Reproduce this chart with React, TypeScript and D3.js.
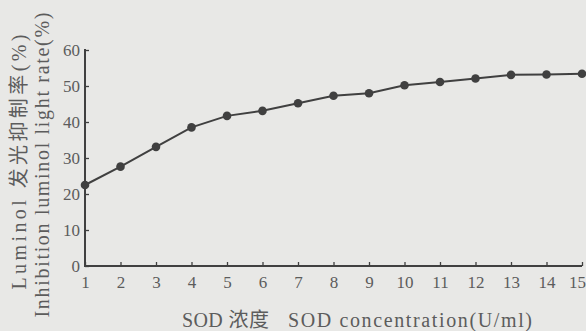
import React, { useRef, useEffect } from "react";
import * as d3 from "d3";

// SOD concentration (U/ml) and inhibition rate (%)
const concentrations = [1, 2, 3, 4, 5, 6, 7, 8, 9, 10, 11, 12, 13, 14, 15];
const inhibition = [22.5, 27.6, 33.1, 38.5, 41.7, 43.1, 45.2, 47.3, 48.0, 50.2, 51.1, 52.1, 53.1, 53.2, 53.4];
const yTicks = [0, 10, 20, 30, 40, 50, 60];
const yLabel1 = "Luminol 发光抑制率(%)";
const yLabel2 = "Inhibition luminol light rate(%)";
const xLabelCn = "SOD 浓度";
const xLabelEn = "SOD concentration(U/ml)";

const W = 586;
const H = 331;
const FONT = "'Liberation Serif', 'Noto Sans CJK SC', serif";

const App = () => {
  const ref = useRef<SVGSVGElement>(null);

  useEffect(() => {
    const svg = d3.select(ref.current);
    svg.selectAll("*").remove();

    const ink = "#404040";
    const txt = "#5c5c5c";

    svg.append("rect").attr("width", W).attr("height", H).attr("fill", "#e8e8e6");

    const x = d3.scaleLinear().domain([1, 15]).range([85, 582]);
    const y = d3.scaleLinear().domain([0, 60]).range([266, 50]);

    // y axis, ticks pointing inward
    const yAxis = svg
      .append("g")
      .attr("transform", `translate(${x(1)},0)`)
      .call(d3.axisLeft(y).tickValues(yTicks).tickSize(-4).tickPadding(5));
    yAxis.select(".domain").attr("stroke", ink).attr("stroke-width", 2).attr("d", `M0,${y(60) - 1}V${y(0)}`);
    yAxis.selectAll(".tick line").attr("stroke", ink).attr("stroke-width", 1.3);
    yAxis
      .selectAll(".tick text")
      .attr("fill", txt)
      .style("font-family", FONT)
      .style("font-size", "17px");

    // x axis, ticks pointing inward
    const xAxis = svg
      .append("g")
      .attr("transform", `translate(0,${y(0)})`)
      .call(d3.axisBottom(x).tickValues(concentrations).tickFormat(d3.format("d")).tickSize(-4).tickPadding(10));
    xAxis.select(".domain").attr("stroke", ink).attr("stroke-width", 2).attr("d", `M${x(1) - 1},0H${x(15)}`);
    xAxis.selectAll(".tick line").attr("stroke", ink).attr("stroke-width", 1.3);
    xAxis
      .selectAll(".tick text")
      .attr("fill", txt)
      .style("font-family", FONT)
      .style("font-size", "17px");
    xAxis.selectAll(".tick:last-of-type text").attr("text-anchor", "end").attr("dx", "0.2em");

    // data line
    const line = d3
      .line<number>()
      .x((_, i) => x(concentrations[i]))
      .y((d) => y(d));
    svg
      .append("path")
      .datum(inhibition)
      .attr("d", line)
      .attr("fill", "none")
      .attr("stroke", ink)
      .attr("stroke-width", 2);

    svg
      .selectAll("circle.pt")
      .data(inhibition)
      .enter()
      .append("circle")
      .attr("class", "pt")
      .attr("cx", (_, i) => x(concentrations[i]))
      .attr("cy", (d) => y(d))
      .attr("r", 4.3)
      .attr("fill", ink);

    // axis titles
    svg
      .append("text")
      .attr("transform", `translate(26,162) rotate(-90)`)
      .attr("text-anchor", "middle")
      .attr("fill", txt)
      .attr("textLength", 255)
      .attr("lengthAdjust", "spacing")
      .style("font-family", FONT)
      .style("font-size", "20px")
      .text(yLabel1);
    svg
      .append("text")
      .attr("transform", `translate(49,165) rotate(-90)`)
      .attr("text-anchor", "middle")
      .attr("fill", txt)
      .attr("textLength", 305)
      .attr("lengthAdjust", "spacing")
      .style("font-family", FONT)
      .style("font-size", "20px")
      .text(yLabel2);

    svg
      .append("text")
      .attr("x", 182)
      .attr("y", 327)
      .attr("fill", txt)
      .attr("textLength", 87)
      .attr("lengthAdjust", "spacing")
      .style("font-family", FONT)
      .style("font-size", "20px")
      .text(xLabelCn);
    svg
      .append("text")
      .attr("x", 288)
      .attr("y", 327)
      .attr("fill", txt)
      .attr("textLength", 244)
      .attr("lengthAdjust", "spacing")
      .style("font-family", FONT)
      .style("font-size", "20px")
      .text(xLabelEn);
  }, []);

  return (
    <svg
      ref={ref}
      width={W}
      height={H}
      style={{ position: "absolute", left: 0, top: 0, display: "block" }}
    />
  );
};

export default App;
